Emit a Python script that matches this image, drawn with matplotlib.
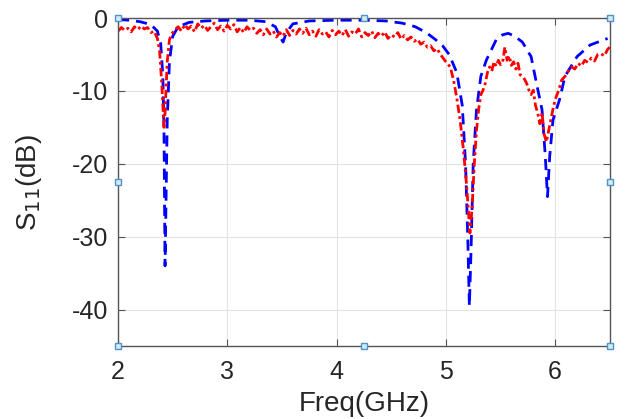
import matplotlib

matplotlib.use("Agg")
import matplotlib.pyplot as plt

plt.rcParams["font.family"] = ["Liberation Sans", "DejaVu Sans"]
plt.rcParams["axes.unicode_minus"] = False

# simulated S11 (blue dashed)
sim_freq = [2.00, 2.10, 2.20, 2.30, 2.36, 2.39, 2.41, 2.42, 2.43, 2.44, 2.45, 2.47,
            2.50, 2.55, 2.65, 2.80, 3.00, 3.20, 3.35, 3.44, 3.48, 3.51, 3.54, 3.60,
            3.75, 4.00, 4.25, 4.45, 4.60, 4.72, 4.82, 4.90, 4.97, 5.03, 5.10, 5.15,
            5.18, 5.20, 5.215, 5.23, 5.25, 5.28, 5.32, 5.37, 5.46, 5.52, 5.57, 5.63,
            5.70, 5.78, 5.83, 5.88, 5.91, 5.93, 5.95, 5.98, 6.04, 6.09, 6.20, 6.32,
            6.48]
sim_s11 = [-0.2, -0.3, -0.5, -0.9, -1.8, -3.5, -8.0, -15.0, -34.0, -24.0, -14.0, -6.0,
           -2.5, -1.2, -0.6, -0.4, -0.3, -0.3, -0.5, -1.2, -2.5, -3.3, -2.0, -0.8,
           -0.4, -0.3, -0.3, -0.4, -0.7, -1.2, -2.0, -2.9, -3.8, -5.0, -7.5, -12.0,
           -20.0, -30.0, -39.5, -32.0, -20.0, -12.6, -8.0, -5.8, -3.0, -2.3, -2.1, -2.5,
           -3.3, -5.3, -9.0, -12.6, -19.0, -24.5, -19.0, -14.0, -11.2, -8.0, -5.3, -3.7,
           -2.8]

# measured S11 (red dash-dot)
meas_freq = [2.00, 2.03, 2.06, 2.09, 2.12, 2.15, 2.18, 2.21, 2.24, 2.27, 2.30, 2.33,
             2.36, 2.38, 2.40, 2.42, 2.43, 2.45, 2.47, 2.49, 2.52, 2.55, 2.58, 2.61,
             2.64, 2.67, 2.70, 2.73, 2.76, 2.79, 2.82, 2.85, 2.88, 2.91, 2.94, 2.97,
             3.00, 3.03, 3.06, 3.09, 3.12, 3.15, 3.18, 3.21, 3.24, 3.27, 3.30, 3.33,
             3.36, 3.39, 3.42, 3.45, 3.48, 3.51, 3.54, 3.57, 3.60, 3.63, 3.66, 3.69,
             3.72, 3.75, 3.78, 3.81, 3.84, 3.87, 3.90, 3.93, 3.96, 3.99, 4.02, 4.05,
             4.08, 4.11, 4.14, 4.17, 4.20, 4.23, 4.26, 4.29, 4.32, 4.35, 4.38, 4.41,
             4.44, 4.47, 4.50, 4.53, 4.56, 4.59, 4.62, 4.65, 4.68, 4.71, 4.74, 4.77,
             4.80, 4.83, 4.86, 4.89, 4.92, 4.95, 4.98, 5.01, 5.04, 5.07, 5.10, 5.13,
             5.16, 5.19, 5.22, 5.24, 5.26, 5.28, 5.30, 5.32, 5.34, 5.36, 5.38, 5.40,
             5.42, 5.44, 5.46, 5.48, 5.50, 5.52, 5.54, 5.56, 5.58, 5.60, 5.62, 5.64,
             5.66, 5.68, 5.70, 5.72, 5.74, 5.76, 5.78, 5.80, 5.82, 5.84, 5.86, 5.88,
             5.90, 5.92, 5.94, 5.96, 5.98, 6.00, 6.03, 6.06, 6.09, 6.12, 6.15, 6.18,
             6.21, 6.24, 6.27, 6.30, 6.33, 6.36, 6.39, 6.42, 6.45, 6.48, 6.50]
meas_s11 = [-1.8, -1.3, -1.7, -1.4, -1.9, -1.2, -1.6, -1.1, -1.5, -1.3, -2.0, -1.8,
            -2.8, -4.5, -9.0, -15.0, -13.0, -6.0, -3.0, -2.2, -1.6, -1.2, -1.8, -0.9,
            -1.5, -1.1, -1.9, -0.8, -1.4, -1.0, -1.7, -1.2, -0.7, -1.6, -1.1, -1.8,
            -1.0, -1.5, -0.9, -1.9, -1.3, -2.0, -1.2, -1.7, -1.4, -2.1, -1.6, -2.3,
            -1.5, -2.2, -1.8, -2.6, -2.0, -2.5, -1.6, -2.4, -1.7, -2.2, -1.5, -2.1,
            -1.4, -2.3, -1.8, -2.5, -1.6, -2.2, -1.9, -2.6, -1.7, -2.3, -1.8, -2.4,
            -1.6, -2.5, -1.9, -2.2, -1.5, -2.6, -2.0, -2.4, -1.8, -2.7, -2.1, -2.5,
            -1.9, -2.8, -2.3, -2.6, -2.0, -2.9, -2.4, -3.0, -2.6, -3.2, -2.9, -3.6,
            -3.3, -4.0, -3.8, -4.5, -4.2, -5.0, -5.6, -6.2, -6.7, -8.5, -11.0, -14.0,
            -18.0, -23.0, -29.5, -26.0, -20.0, -15.5, -12.5, -10.5, -9.9, -9.0, -7.5, -6.7,
            -7.3, -6.0, -6.6, -5.8, -6.4, -6.0, -4.0, -5.8, -5.2, -6.5, -6.0, -7.0,
            -6.2, -7.8, -8.0, -8.4, -9.0, -9.9, -10.5, -9.9, -12.0, -13.0, -14.5, -13.0,
            -16.0, -17.0, -15.5, -14.0, -12.5, -11.2, -10.0, -8.5, -8.0, -7.3, -6.7, -7.0,
            -6.2, -6.6, -5.8, -6.1, -5.5, -5.9, -5.0, -4.9, -5.2, -4.3, -4.0]

x_ticks = [2, 3, 4, 5, 6]
y_ticks = [0, -10, -20, -30, -40]

fig = plt.figure(figsize=(6.28, 4.19), dpi=100)
ax = fig.add_axes([0.188, 0.174, 0.783, 0.783])

ax.plot(sim_freq, sim_s11, color="#0000ff", linestyle=(0, (4, 2.5)), linewidth=2.0)
ax.plot(meas_freq, meas_s11, color="#ff0000", linestyle=(0, (3, 1.2, 1, 1.2)), linewidth=2.0)

ax.set_xlim(2, 6.5)
ax.set_ylim(-45, 0)
ax.set_xticks(x_ticks)
ax.set_yticks(y_ticks)
ax.set_yticklabels([str(v) for v in y_ticks])
ax.grid(True, color="#e3e3e3", linewidth=0.8)
ax.set_axisbelow(True)
ax.tick_params(direction="in", length=5, width=0.8, colors="#555555",
               labelcolor="#262626", labelsize=18, top=True, right=True)
ax.tick_params(axis="x", pad=10)
ax.tick_params(axis="y", pad=7)
for spine in ax.spines.values():
    spine.set_color("#555555")
    spine.set_linewidth(1.0)

ax.set_xlabel("Freq(GHz)", fontsize=20, color="#262626", labelpad=5)
ax.set_ylabel("S$_{11}$(dB)", fontsize=20, color="#262626", labelpad=20)

# selection handles on the axes box
hx = [2, 4.25, 6.5, 2, 6.5, 2, 4.25, 6.5]
hy = [0, 0, 0, -22.5, -22.5, -45, -45, -45]
ax.plot(hx, hy, linestyle="none", marker="s", markersize=5, markerfacecolor="#d6ebf8",
        markeredgecolor="#4f94c8", markeredgewidth=1.0, clip_on=False, zorder=10)

fig.savefig("out.png", dpi=100)
plt.close(fig)
